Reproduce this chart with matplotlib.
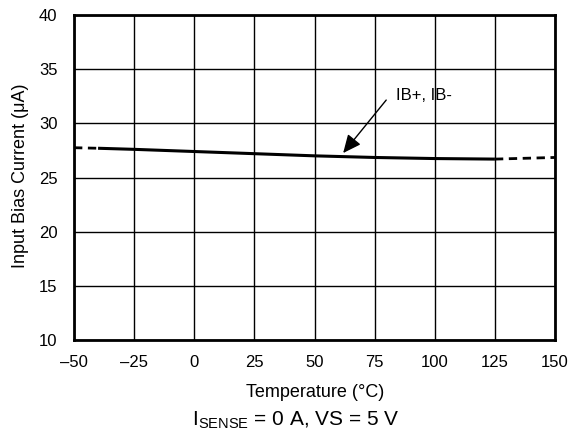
import matplotlib
matplotlib.use("Agg")
import matplotlib.pyplot as plt

plt.rcParams['font.family'] = ['Liberation Sans', 'DejaVu Sans']

# measured curve (solid part) and extrapolated ends (dashed)
temp = [-40, -25, 0, 25, 50, 75, 100, 125]
ib = [27.7, 27.6, 27.4, 27.2, 27.0, 26.85, 26.75, 26.7]
temp_lo = [-50, -40]
ib_lo = [27.75, 27.7]
temp_hi = [125, 150]
ib_hi = [26.7, 26.85]

xticks = [-50, -25, 0, 25, 50, 75, 100, 125, 150]
xtick_labels = ['\u201350', '\u201325', '0', '25', '50', '75', '100', '125', '150']
yticks = [10, 15, 20, 25, 30, 35, 40]

fig = plt.figure(figsize=(5.8, 4.42), dpi=100)
ax = fig.add_axes([0.1276, 0.2308, 0.8294, 0.7352])

ax.plot(temp, ib, color='black', lw=2.2, solid_capstyle='butt')
ax.plot(temp_lo, ib_lo, color='black', lw=2.0, ls=(0, (3, 2)))
ax.plot(temp_hi, ib_hi, color='black', lw=2.0, ls=(0, (3, 2)))

ax.set_xlim(-50, 150)
ax.set_ylim(10, 40)
ax.set_xticks(xticks)
ax.set_xticklabels(xtick_labels)
ax.set_yticks(yticks)
ax.grid(True, color='black', lw=1.0)
ax.tick_params(length=0, labelsize=12)
ax.tick_params(axis='y', pad=12)
ax.tick_params(axis='x', pad=11)
for s in ax.spines.values():
    s.set_linewidth(2)

# label + arrow
ax.text(84, 32.15, 'IB+, IB-', fontsize=12, ha='left', va='baseline')
ax.annotate('', xy=(61.9, 27.26), xytext=(79.8, 32.15),
            arrowprops=dict(arrowstyle='-|>,head_length=0.55,head_width=0.25',
                            color='black', lw=1, mutation_scale=20,
                            shrinkA=0, shrinkB=0))

fig.text(0.543, 0.1018, 'Temperature (\u00b0C)', fontsize=13,
         ha='center', va='baseline')
fig.text(0.0345, 0.602, 'Input Bias Current (\u03bcA)', fontsize=13,
         ha='center', va='center', rotation=90)
fig.text(0.51, 0.0385, r'I$_{\mathregular{SENSE}}$ = 0 A, VS = 5 V',
         fontsize=15, ha='center', va='baseline')

fig.savefig('out.png', dpi=100)
